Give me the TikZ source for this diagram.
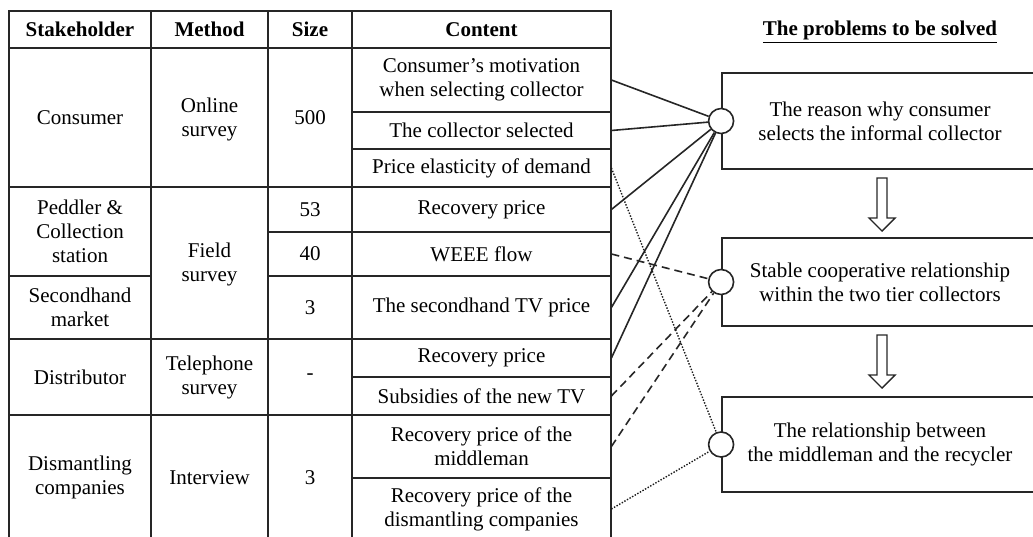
\documentclass[tikz,border=0pt]{standalone}
\usepackage{fontspec}
\setmainfont{Liberation Serif}
\begin{document}
\begin{tikzpicture}[x=0.5pt,y=-0.5pt,
    every node/.style={font=\fontsize{10.5}{12}\selectfont, align=center, inner sep=0pt},
    header/.style={font=\fontsize{10.5}{12}\selectfont\bfseries},
    tableline/.style={black!85, line width=0.9pt, line cap=rect},
    cell/.style={minimum width=129.5pt},
    problem/.style={draw=black!85, line width=0.9pt, minimum width=158pt},
    joint/.style={circle, draw=black!85, fill=white, line width=0.8pt, minimum size=12.5pt},
    link/.style={black!85, line width=0.8pt},
    weak/.style={black!85, line width=0.8pt, dash pattern=on 4pt off 2.5pt},
    faint/.style={black!90, line width=0.7pt, dash pattern=on 0.7pt off 0.8pt}]
    \useasboundingbox (0,0) rectangle (1033,536);
    \clip (0,0) rectangle (1033,536);

    \foreach \x in {9,151,268,352,611} \draw[tableline] (\x,11) -- (\x,545);
    \foreach \y in {11,48,187,339,415} \draw[tableline] (9,\y) -- (611,\y);
    \draw[tableline] (9,276) -- (151,276) (268,276) -- (611,276);
    \draw[tableline] (268,232) -- (611,232);
    \foreach \y in {112,149,377,478} \draw[tableline] (352,\y) -- (611,\y);

    \node[header] (h1) at (80,29.5) {Stakeholder};
    \node[header] (h2) at (209.5,29.5) {Method};
    \node[header] (h3) at (310,29.5) {Size};
    \node[header, cell] (h4) at (481.5,29.5) {Content};

    \node (s1) at (80,117.5) {Consumer};
    \node (s2) at (80,231.5) {Peddler \&\\Collection\\station};
    \node (s3) at (80,307.5) {Secondhand\\market};
    \node (s4) at (80,377) {Distributor};
    \node (s5) at (80,477.5) {Dismantling\\companies};

    \node (m1) at (209.5,119) {Online\\survey};
    \node (m2) at (209.5,264) {Field\\survey};
    \node (m3) at (209.5,377) {Telephone\\survey};
    \node (m4) at (209.5,477.5) {Interview};

    \node (n1) at (310,117.5) {500};
    \node (n2) at (310,209.5) {53};
    \node (n3) at (310,254) {40};
    \node (n4) at (310,307.5) {3};
    \node (n5) at (310,377) {-};
    \node (n6) at (310,477.5) {3};

    \node[cell] (c1) at (481.5,80) {Consumer's motivation\\when selecting collector};
    \node[cell] (c2) at (481.5,130.5) {The collector selected};
    \node[cell] (c3) at (481.5,168) {Price elasticity of demand};
    \node[cell] (c4) at (481.5,209.5) {Recovery price};
    \node[cell] (c5) at (481.5,254) {WEEE flow};
    \node[cell] (c6) at (481.5,307.5) {The secondhand TV price};
    \node[cell] (c7) at (481.5,358) {Recovery price};
    \node[cell] (c8) at (481.5,396) {Subsidies of the new TV};
    \node[cell] (c9) at (481.5,446.5) {Recovery price of the\\middleman};
    \node[cell] (c10) at (481.5,509) {Recovery price of the\\dismantling companies};

    \node[header] (title) at (880,32) {\underline{The problems to be solved}};

    \node[problem, minimum height=48pt] (b1) at (880,121) {The reason why consumer\\selects the informal collector};
    \node[problem, minimum height=44pt] (b2) at (880,282) {Stable cooperative relationship\\within the two tier collectors};
    \node[problem, minimum height=47.5pt] (b3) at (880,444.5) {The relationship between\\the middleman and the recycler};

    \draw[tableline, line width=0.7pt, line cap=butt, line join=miter] (877,178) -- (887,178) -- (887,218) -- (895,218) -- (882,231) -- (869,218) -- (877,218) -- cycle;
    \draw[tableline, line width=0.7pt, line cap=butt, line join=miter] (877,335) -- (887,335) -- (887,375) -- (895,375) -- (882,388) -- (869,375) -- (877,375) -- cycle;

    \node[joint] (p1) at (b1.west) {};
    \node[joint] (p2) at (b2.west) {};
    \node[joint] (p3) at (b3.west) {};

    \foreach \c in {c1,c2,c4,c6,c7} \draw[link] (\c.east) -- (p1);
    \foreach \c in {c5,c8,c9} \draw[weak] (\c.east) -- (p2);
    \foreach \c in {c3,c10} \draw[faint] (\c.east) -- (p3);

\end{tikzpicture}
\end{document}
